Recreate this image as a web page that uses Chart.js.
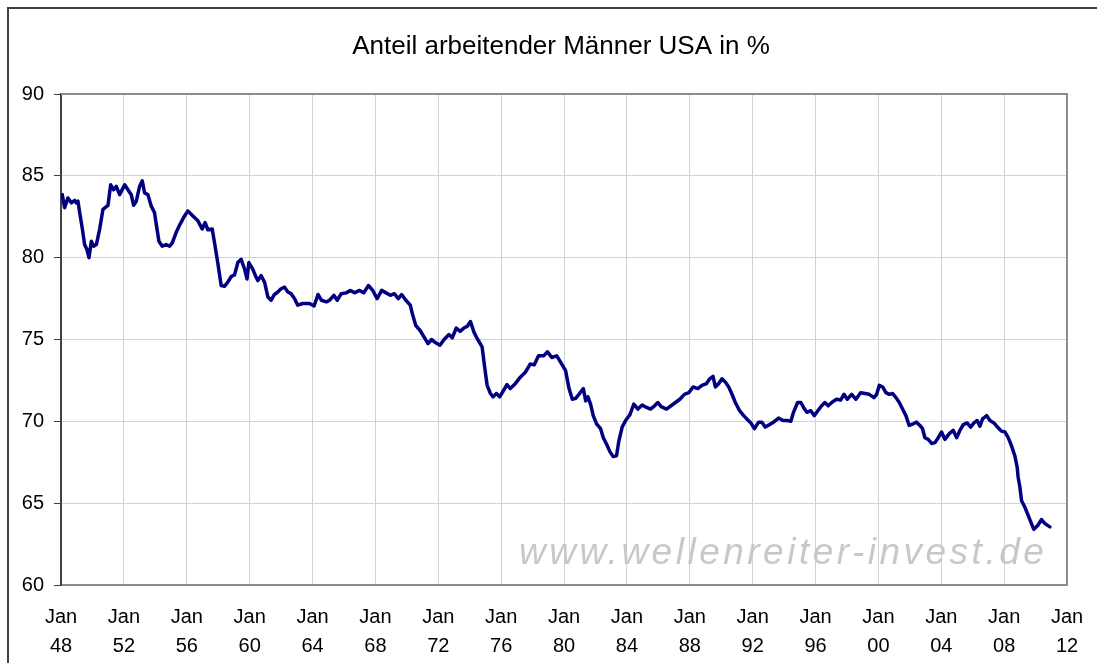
<!DOCTYPE html>
<html lang="de">
<head>
<meta charset="utf-8">
<title>Anteil arbeitender Männer USA in %</title>
<script src="https://cdn.jsdelivr.net/npm/chart.js@4/dist/chart.umd.min.js"></script>
<style>
  html, body { margin: 0; padding: 0; background: #fff; }
  canvas { display: block; }
</style>
</head>
<body>
<canvas id="myChart" width="1097" height="663"></canvas>
<script>
// values, time as decimal year
const dates = [
  1948.08, 1948.23, 1948.44, 1948.66, 1948.87, 1948.97, 1949.08, 1949.19, 1949.36, 1949.5,
  1949.65, 1949.78, 1949.93, 1950.08, 1950.25, 1950.46, 1950.67, 1950.99, 1951.16, 1951.35,
  1951.52, 1951.73, 1952.05, 1952.26, 1952.47, 1952.62, 1952.79, 1953.0, 1953.17, 1953.32,
  1953.53, 1953.74, 1953.95, 1954.06, 1954.23, 1954.44, 1954.69, 1954.91, 1955.08, 1955.33,
  1955.58, 1955.86, 1956.07, 1956.39, 1956.71, 1956.98, 1957.17, 1957.34, 1957.62, 1957.77,
  1957.97, 1958.19, 1958.4, 1958.61, 1958.83, 1959.04, 1959.25, 1959.46, 1959.68, 1959.83,
  1959.95, 1960.2, 1960.37, 1960.52, 1960.73, 1960.95, 1961.16, 1961.37, 1961.58, 1961.79,
  1962.0, 1962.22, 1962.43, 1962.64, 1962.85, 1963.06, 1963.38, 1963.81,
  1964.1, 1964.35, 1964.56, 1964.88, 1965.09, 1965.36, 1965.57, 1965.83, 1966.14, 1966.42,
  1966.67, 1966.99, 1967.26, 1967.56, 1967.83, 1968.11, 1968.4, 1968.68, 1968.95, 1969.2,
  1969.46, 1969.67, 1969.94, 1970.22, 1970.36, 1970.57, 1970.85, 1971.1, 1971.35, 1971.57,
  1971.84, 1972.11, 1972.37, 1972.68, 1972.89, 1973.15, 1973.38, 1973.63, 1973.84, 1974.05,
  1974.27, 1974.48, 1974.79, 1974.94, 1975.11, 1975.32, 1975.49, 1975.7, 1975.91, 1976.16,
  1976.37, 1976.58, 1976.9, 1977.22, 1977.54, 1977.85, 1978.11, 1978.38, 1978.7, 1978.95,
  1979.22, 1979.54, 1979.79,
  1980.1, 1980.32, 1980.53, 1980.74, 1980.95, 1981.23, 1981.38, 1981.52, 1981.69, 1981.86,
  1982.07, 1982.33, 1982.5, 1982.71, 1982.92, 1983.13, 1983.34, 1983.49, 1983.7, 1983.92,
  1984.19, 1984.44, 1984.7, 1984.97, 1985.25, 1985.5, 1985.76, 1985.97, 1986.18, 1986.52,
  1986.81, 1987.09, 1987.37, 1987.66, 1987.94, 1988.21, 1988.51, 1988.78, 1989.06, 1989.27,
  1989.48, 1989.63, 1989.84, 1990.05, 1990.26, 1990.48, 1990.69, 1990.9, 1991.17, 1991.43,
  1991.68, 1991.89, 1992.11, 1992.38, 1992.59, 1992.8, 1993.08, 1993.33, 1993.65, 1993.93,
  1994.18, 1994.43, 1994.6, 1994.86, 1995.07, 1995.24, 1995.45, 1995.7, 1995.92,
  1996.11, 1996.39, 1996.6, 1996.81, 1997.09, 1997.34, 1997.6, 1997.81, 1998.02, 1998.3,
  1998.57, 1998.87, 1999.15, 1999.42, 1999.72, 1999.89, 2000.06, 2000.27, 2000.48, 2000.69,
  2000.91, 2001.12, 2001.33, 2001.54, 2001.75, 2001.96, 2002.22, 2002.43, 2002.64, 2002.81,
  2002.96, 2003.17, 2003.39, 2003.6, 2003.81, 2004.02, 2004.23, 2004.51, 2004.76, 2004.98,
  2005.19, 2005.4, 2005.65, 2005.87, 2006.08, 2006.29, 2006.46, 2006.63, 2006.89, 2007.1,
  2007.35, 2007.62, 2007.84, 2008.05, 2008.26, 2008.47, 2008.68, 2008.83, 2008.89, 2009.0,
  2009.11, 2009.32, 2009.53, 2009.74, 2009.89, 2010.15, 2010.38, 2010.6, 2010.91
];

const maleEmployed = [
  83.85, 83.05, 83.65, 83.35, 83.5, 83.35, 83.45, 82.75, 81.75, 80.8,
  80.5, 80.0, 81.0, 80.7, 80.8, 81.75, 82.95, 83.2, 84.45, 84.15,
  84.35, 83.85, 84.45, 84.15, 83.85, 83.2, 83.45, 84.35, 84.7, 83.95,
  83.85, 83.15, 82.75, 82.05, 81.0, 80.7, 80.8, 80.7, 80.9, 81.55,
  82.05, 82.55, 82.85, 82.55, 82.25, 81.75, 82.15, 81.7, 81.75, 80.9,
  79.7, 78.3, 78.25, 78.5, 78.85, 78.95, 79.7, 79.9, 79.3, 78.7,
  79.7, 79.3, 78.9, 78.6, 78.9, 78.5, 77.6, 77.4, 77.75, 77.9,
  78.1, 78.2, 77.9, 77.8, 77.5, 77.1, 77.2, 77.2,
  77.05, 77.75, 77.4, 77.3, 77.4, 77.7, 77.4, 77.8, 77.85, 78.0,
  77.85, 78.0, 77.85, 78.3, 78.0, 77.5, 78.0, 77.85, 77.7, 77.8,
  77.5, 77.75, 77.4, 77.1, 76.55, 75.85, 75.55, 75.15, 74.75, 75.0,
  74.8, 74.65, 75.0, 75.3, 75.1, 75.7, 75.5, 75.7, 75.8, 76.1,
  75.45, 75.05, 74.55, 73.4, 72.2, 71.7, 71.5, 71.7, 71.5, 71.9,
  72.25, 72.0, 72.3, 72.7, 73.0, 73.5, 73.45, 74.0, 74.0, 74.25,
  73.9, 74.0, 73.6,
  73.1, 72.0, 71.35, 71.4, 71.65, 72.0, 71.25, 71.5, 71.05, 70.35,
  69.85, 69.55, 69.0, 68.6, 68.15, 67.85, 67.9, 68.8, 69.65, 70.05,
  70.4, 71.05, 70.75, 71.0, 70.85, 70.75, 70.95, 71.15, 70.9, 70.75,
  70.95, 71.15, 71.35, 71.65, 71.75, 72.1, 72.0, 72.2, 72.3, 72.6,
  72.75, 72.1, 72.3, 72.6, 72.4, 72.1, 71.65, 71.15, 70.65, 70.35,
  70.1, 69.9, 69.55, 69.95, 69.95, 69.65, 69.8, 69.95, 70.2, 70.05,
  70.05, 70.0, 70.55, 71.15, 71.15, 70.85, 70.55, 70.65, 70.35,
  70.6, 70.95, 71.15, 70.95, 71.2, 71.35, 71.3, 71.65, 71.35, 71.65,
  71.35, 71.75, 71.7, 71.65, 71.45, 71.65, 72.2, 72.1, 71.75, 71.65,
  71.7, 71.45, 71.15, 70.75, 70.35, 69.75, 69.85, 69.95, 69.75, 69.55,
  69.0, 68.9, 68.65, 68.7, 69.0, 69.35, 68.9, 69.25, 69.45, 69.0,
  69.45, 69.8, 69.9, 69.65, 69.9, 70.05, 69.7, 70.15, 70.35, 70.05,
  69.9, 69.6, 69.4, 69.35, 69.0, 68.5, 67.9, 67.2, 66.6, 66.0,
  65.15, 64.75, 64.25, 63.75, 63.4, 63.65, 64.0, 63.75, 63.55
];

const xTickYears = [1948, 1952, 1956, 1960, 1964, 1968, 1972, 1976, 1980, 1984, 1988, 1992, 1996, 2000, 2004, 2008, 2012];
const xTickLabels = ["48", "52", "56", "60", "64", "68", "72", "76", "80", "84", "88", "92", "96", "00", "04", "08", "12"];
const yTicks = [60, 65, 70, 75, 80, 85, 90];

const chartTitle = "Anteil arbeitender Männer USA in %";
const watermark = "www.wellenreiter-invest.de";

const fontFamily = "'Liberation Sans', Arial, sans-serif";

// white background, outer frame, plot border, watermark and title
const framePlugin = {
  id: "frame",
  beforeDraw(chart) {
    const c = chart.ctx;
    c.save();
    c.fillStyle = "#ffffff";
    c.fillRect(0, 0, chart.width, chart.height);
    c.restore();
  },
  beforeDatasetsDraw(chart) {
    const c = chart.ctx;
    c.save();
    c.font = "italic 37px " + fontFamily;
    c.fillStyle = "#c8c8c8";
    c.textBaseline = "alphabetic";
    c.textAlign = "left";
    if ("letterSpacing" in c) c.letterSpacing = "3.5px";
    c.fillText(watermark, 519, 564);
    c.restore();
  },
  afterDraw(chart) {
    const c = chart.ctx;
    const a = chart.chartArea;
    c.save();
    // plot area top/right border
    c.strokeStyle = "#8c8c8c";
    c.lineWidth = 2;
    c.beginPath();
    c.moveTo(a.left, a.top);
    c.lineTo(a.right, a.top);
    c.lineTo(a.right, a.bottom);
    c.stroke();
    // outer frame
    c.strokeStyle = "#404040";
    c.lineWidth = 2;
    c.strokeRect(8, 8, chart.width + 50, chart.height + 50);
    // title
    c.fillStyle = "#000";
    c.font = "26px " + fontFamily;
    c.textAlign = "center";
    c.textBaseline = "alphabetic";
    c.fillText(chartTitle, 561, 54);
    c.restore();
  }
};

const ctx = document.getElementById("myChart").getContext("2d");

const myChart = new Chart(ctx, {
  type: "line",
  data: {
    datasets: [{
      label: chartTitle,
      data: dates.map((d, i) => ({ x: d, y: maleEmployed[i] })),
      borderColor: "#000080",
      borderWidth: 3.5,
      pointRadius: 0,
      tension: 0,
      fill: false,
      borderJoinStyle: "round",
      borderCapStyle: "round"
    }]
  },
  options: {
    responsive: false,
    animation: false,
    layout: { padding: { top: 94, right: 30, left: 0, bottom: 0 } },
    plugins: {
      legend: { display: false },
      title: { display: false },
      tooltip: { enabled: false }
    },
    scales: {
      x: {
        type: "linear",
        min: xTickYears[0],
        max: xTickYears[xTickYears.length - 1],
        afterBuildTicks: (scale) => {
          scale.ticks = xTickYears.map((v) => ({ value: v }));
        },
        afterFit: (scale) => {
          scale.height = 78;
          scale.paddingLeft = 0;
          scale.paddingRight = 0;
        },
        ticks: {
          autoSkip: false,
          maxRotation: 0,
          padding: 18,
          color: "#000",
          font: { family: fontFamily, size: 20, lineHeight: 1.45 },
          callback: (value, index) => ["Jan", xTickLabels[index]]
        },
        grid: { color: "#d2d2d2", lineWidth: 1, drawTicks: false },
        border: { color: "#8c8c8c", width: 2 }
      },
      y: {
        min: yTicks[0],
        max: yTicks[yTicks.length - 1],
        afterBuildTicks: (scale) => {
          scale.ticks = yTicks.map((v) => ({ value: v }));
        },
        afterFit: (scale) => { scale.width = 61; },
        ticks: {
          padding: 10,
          color: "#000",
          font: { family: fontFamily, size: 20 }
        },
        grid: { color: "#d2d2d2", lineWidth: 1, tickColor: "#404040", tickLength: 7 },
        border: { color: "#404040", width: 2 }
      }
    }
  },
  plugins: [framePlugin]
});
</script>
</body>
</html>
